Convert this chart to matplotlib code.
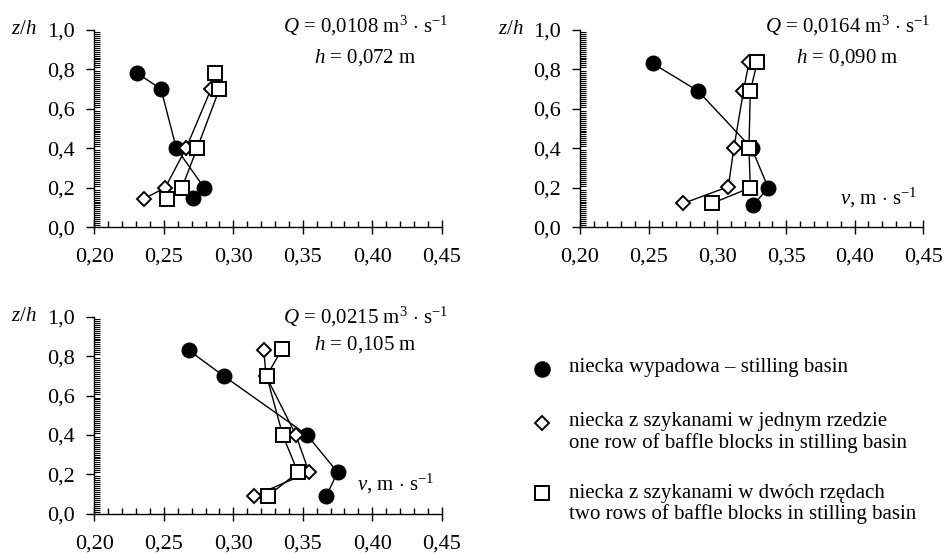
import matplotlib
matplotlib.use("Agg")
import matplotlib.pyplot as plt
from matplotlib.ticker import MultipleLocator, FuncFormatter
from matplotlib.lines import Line2D

plt.rcParams['font.family'] = ['Liberation Serif', 'DejaVu Serif']
plt.rcParams['mathtext.fontset'] = 'custom'
plt.rcParams['mathtext.rm'] = 'Liberation Serif'
plt.rcParams['mathtext.it'] = 'Liberation Serif:italic'

# velocity profiles v [m/s] at relative depth z/h
# Q = 0,0108
z1_basin = [0.78, 0.70, 0.40, 0.20, 0.15]
v1_basin = [0.231, 0.248, 0.259, 0.279, 0.271]
z1_one = [0.78, 0.70, 0.40, 0.20, 0.145]
v1_one = [0.2868, 0.284, 0.266, 0.251, 0.236]
z1_two = [0.78, 0.70, 0.40, 0.20, 0.145]
v1_two = [0.287, 0.290, 0.274, 0.263, 0.252]

# Q = 0,0164
z2_basin = [0.83, 0.69, 0.40, 0.20, 0.11]
v2_basin = [0.253, 0.286, 0.325, 0.337, 0.326]
z2_one = [0.835, 0.69, 0.40, 0.205, 0.12]
v2_one = [0.323, 0.319, 0.312, 0.308, 0.275]
z2_two = [0.835, 0.69, 0.40, 0.20, 0.12]
v2_two = [0.329, 0.324, 0.323, 0.324, 0.296]

# Q = 0,0215
z3_basin = [0.83, 0.70, 0.40, 0.21, 0.09]
v3_basin = [0.268, 0.293, 0.353, 0.375, 0.367]
z3_one = [0.83, 0.70, 0.40, 0.21, 0.09]
v3_one = [0.322, 0.3235, 0.345, 0.3545, 0.315]
z3_two = [0.835, 0.70, 0.40, 0.21, 0.09]
v3_two = [0.335, 0.324, 0.3355, 0.3465, 0.325]

q_labels = [r"$Q$ = 0,0108 m$^{3}$ $\cdot$ s$^{-1}$",
            r"$Q$ = 0,0164 m$^{3}$ $\cdot$ s$^{-1}$",
            r"$Q$ = 0,0215 m$^{3}$ $\cdot$ s$^{-1}$"]
h_labels = [r"$h$ = 0,072 m", r"$h$ = 0,090 m", r"$h$ = 0,105 m"]

legend_pl = ["niecka wypadowa – stilling basin",
             "niecka z szykanami w jednym rzedzie\none row of baffle blocks in stilling basin",
             "niecka z szykanami w dwóch rzędach\ntwo rows of baffle blocks in stilling basin"]

fs = 15
tfs = 16
comma = FuncFormatter(lambda x, p: f"{x:.2f}".replace('.', ','))
comma1 = FuncFormatter(lambda x, p: f"{x:.1f}".replace('.', ','))

fig = plt.figure(figsize=(9.46, 5.54), dpi=100)
ax1 = fig.add_axes([0.0997, 0.590, 0.3673, 0.356])
ax2 = fig.add_axes([0.6131, 0.590, 0.3630, 0.356])
ax3 = fig.add_axes([0.0997, 0.0730, 0.3673, 0.355])

panels = [
    (ax1, (v1_basin, z1_basin), (v1_one, z1_one), (v1_two, z1_two), False),
    (ax2, (v2_basin, z2_basin), (v2_one, z2_one), (v2_two, z2_two), True),
    (ax3, (v3_basin, z3_basin), (v3_one, z3_one), (v3_two, z3_two), True),
]
q_y = [1.02, 1.02, 1.0]

for i, (ax, basin, one, two, vlab) in enumerate(panels):
    ax.plot(*basin, color='black', lw=1, marker='o', ms=10.5, mfc='black',
            mec='black', clip_on=False, zorder=3)
    ax.plot(*one, color='black', lw=1, marker='D', ms=7, mfc='white',
            mec='black', mew=1.4, clip_on=False, zorder=4)
    ax.plot(*two, color='black', lw=1, marker='s', ms=10, mfc='white',
            mec='black', mew=1.4, clip_on=False, zorder=5)

    ax.set_xlim(0.20, 0.45)
    ax.set_ylim(0.0, 1.0)
    ax.set_xticks([0.20, 0.25, 0.30, 0.35, 0.40, 0.45])
    ax.set_yticks([0.0, 0.2, 0.4, 0.6, 0.8, 1.0])
    ax.xaxis.set_major_formatter(comma)
    ax.yaxis.set_major_formatter(comma1)
    ax.xaxis.set_minor_locator(MultipleLocator(0.01))
    ax.yaxis.set_minor_locator(MultipleLocator(0.01))
    ax.tick_params(axis='x', which='major', direction='inout', length=10,
                   width=1, labelsize=tfs, pad=10)
    ax.tick_params(axis='x', which='minor', direction='in', length=4, width=1)
    ax.tick_params(axis='y', which='major', direction='out', length=6,
                   width=1, labelsize=tfs, pad=8)
    ax.tick_params(axis='y', which='minor', direction='in', length=4, width=0.8)
    for s in ('top', 'right'):
        ax.spines[s].set_visible(False)
    ax.spines['left'].set_linewidth(1)
    ax.spines['bottom'].set_linewidth(1)
    ax.patch.set_alpha(0)

    ax.text(-0.165, 1.0, r"$z/h$", transform=ax.transAxes, fontsize=fs,
            ha='right', va='center')
    ax.text(0.395, q_y[i], q_labels[i], fontsize=fs, ha='center', va='center')
    ax.text(0.395, 0.86, h_labels[i], fontsize=fs, ha='center', va='center')
    if vlab:
        ax.text(0.389, 0.15, r"$v$, m $\cdot$ s$^{-1}$", fontsize=fs,
                ha='left', va='center')

# legend drawn by hand to the right of the last panel
lx, tx = 0.573, 0.601
marks = [('o', 'black', 10.5, 0.334), ('D', 'white', 7, 0.237), ('s', 'white', 10, 0.110)]
ty = [0.336, 0.219, 0.090]
for (m, fc, ms, my), lab, y in zip(marks, legend_pl, ty):
    fig.add_artist(Line2D([lx], [my], marker=m, ms=ms, mfc=fc, mec='black',
                          mew=1.4, ls='none', transform=fig.transFigure))
    fig.text(tx, y, lab, fontsize=fs, ha='left', va='center', linespacing=1.1)

plt.savefig("out.png", dpi=100)
